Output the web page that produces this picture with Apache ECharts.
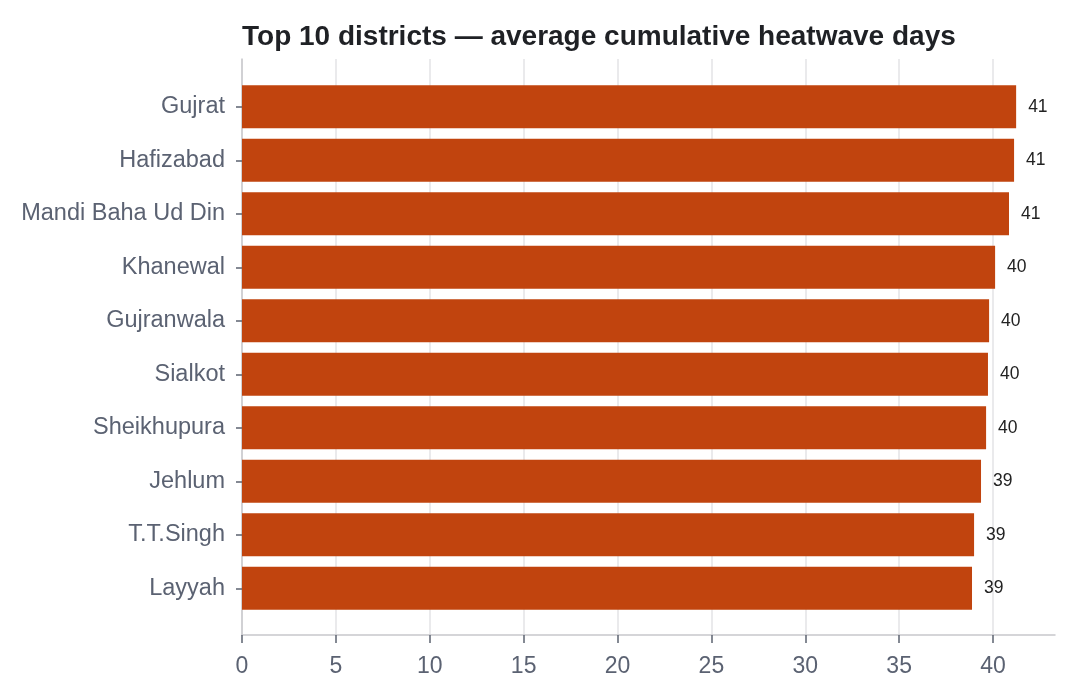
<!DOCTYPE html>
<html>
<head>
<meta charset="utf-8">
<script src="https://cdn.jsdelivr.net/npm/echarts@6/dist/echarts.min.js"></script>
<style>
  html, body { margin: 0; padding: 0; background: #fff; }
  #chart { width: 1071px; height: 697px; }
</style>
</head>
<body>
<div id="chart"></div>
<script>
// districts, top to bottom
const districts = ['Gujrat', 'Hafizabad', 'Mandi Baha Ud Din', 'Khanewal', 'Gujranwala',
  'Sialkot', 'Sheikhupura', 'Jehlum', 'T.T.Singh', 'Layyah'];
// average cumulative heatwave days
const heatwaveDays = [41.23, 41.12, 40.85, 40.11, 39.79, 39.73, 39.63, 39.36, 38.99, 38.88];
const xTicks = [0, 5, 10, 15, 20, 25, 30, 35, 40];
const xMax = 43.3;

const chart = echarts.init(document.getElementById('chart'));
const font = 'Helvetica, Arial, "Liberation Sans", sans-serif';
const labelGray = '#5b6272';

chart.setOption({
  backgroundColor: '#ffffff',
  animation: false,
  title: {
    text: 'Top 10 districts — average cumulative heatwave days',
    left: 242,
    top: 23,
    padding: 0,
    textStyle: { fontFamily: font, fontSize: 28, fontWeight: 'bold', color: '#1f2125' }
  },
  // grid 0: frame with gridlines and x axis; grid 1: padded area for bars
  grid: [
    { left: 242, right: 16, top: 59, bottom: 62 },
    { left: 242, right: 16, top: 80, bottom: 82 }
  ],
  xAxis: [{
    gridIndex: 0,
    type: 'value',
    min: 0,
    max: xMax,
    interval: 5,
    axisLine: { show: true, lineStyle: { color: '#c8c8cc', width: 1.5 } },
    axisTick: { show: true, length: 8, lineStyle: { color: '#5c6370', width: 1.5 } },
    axisLabel: {
      showMaxLabel: false,
      margin: 20,
      fontFamily: font,
      fontSize: 23,
      color: labelGray,
      formatter: v => (xTicks.indexOf(v) >= 0 ? String(v) : '')
    },
    splitLine: { show: true, showMaxLine: false, lineStyle: { color: '#e3e3e6', width: 1.5 } }
  }, {
    gridIndex: 1,
    type: 'value',
    min: 0,
    max: xMax,
    show: false
  }],
  yAxis: [{
    gridIndex: 0,
    type: 'value',
    min: 0,
    max: 1,
    axisLine: { show: true, lineStyle: { color: '#c8c8cc', width: 1.5 } },
    axisTick: { show: false },
    axisLabel: { show: false },
    splitLine: { show: false }
  }, {
    gridIndex: 1,
    type: 'category',
    data: districts,
    inverse: true,
    axisLine: { show: false },
    axisTick: { show: true, alignWithLabel: true, length: 6, lineStyle: { color: '#5c6370', width: 1.5 } },
    axisLabel: { margin: 17, fontFamily: font, fontSize: 23.5, color: labelGray }
  }],
  series: [{
    type: 'bar',
    xAxisIndex: 1,
    yAxisIndex: 1,
    data: heatwaveDays,
    barCategoryGap: '20%',
    itemStyle: { color: '#c1440e' },
    label: {
      show: true,
      position: 'right',
      distance: 12,
      fontFamily: font,
      fontSize: 17.5,
      color: '#222222',
      formatter: p => Math.round(p.value)
    }
  }]
});
</script>
</body>
</html>
